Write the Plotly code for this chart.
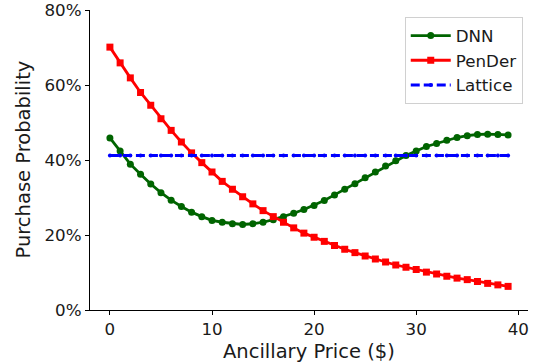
import plotly.graph_objects as go

price = list(range(40))
dnn = [45.9, 42.4, 38.9, 36.2, 33.6, 31.3, 29.3, 27.6, 26.1, 24.9,
       23.9, 23.4, 23.0, 22.8, 23.0, 23.4, 24.1, 24.9, 25.8, 26.8,
       27.9, 29.2, 30.7, 32.2, 33.7, 35.3, 36.8, 38.4, 39.8, 41.2,
       42.4, 43.6, 44.4, 45.3, 46.0, 46.5, 46.8, 46.9, 46.8, 46.7]
pender = [70.1, 65.9, 61.9, 58.0, 54.6, 51.0, 47.9, 44.8, 41.9, 39.3,
          36.8, 34.3, 32.2, 30.2, 28.3, 26.5, 24.9, 23.4, 21.9, 20.5,
          19.4, 18.3, 17.2, 16.2, 15.3, 14.4, 13.6, 12.8, 12.0, 11.4,
          10.8, 10.1, 9.6, 9.0, 8.5, 8.1, 7.6, 7.1, 6.7, 6.3]
lattice = [41.2] * 40

x_ticks = [0, 10, 20, 30, 40]
y_ticks = [0, 20, 40, 60, 80]
y_tick_labels = ["0%", "20%", "40%", "60%", "80%"]

FONT = "DejaVu Sans"
TXT = "#1a1a1a"

fig = go.Figure()
fig.add_trace(go.Scatter(
    x=price, y=dnn, name="DNN", mode="lines+markers",
    line=dict(color="#006400", width=2.8),
    marker=dict(symbol="circle", size=7, color="#006400"),
))
fig.add_trace(go.Scatter(
    x=price, y=pender, name="PenDer", mode="lines+markers",
    line=dict(color="#ff0000", width=2.8),
    marker=dict(symbol="square", size=7, color="#ff0000"),
))
fig.add_trace(go.Scatter(
    x=price, y=lattice, name="Lattice", mode="lines+markers",
    line=dict(color="#0000ff", width=2.8, dash="9px,4px"),
    marker=dict(symbol="circle", size=4, color="#0000ff"),
))

fig.update_layout(
    width=537, height=364,
    margin=dict(l=89.5, r=9, t=10, b=54, autoexpand=False),
    paper_bgcolor="white", plot_bgcolor="white",
    font=dict(family=FONT, size=16.7, color=TXT),
    showlegend=True,
    legend=dict(
        x=0.988, y=0.976, xanchor="right", yanchor="top",
        bgcolor="rgba(255,255,255,0.9)", bordercolor="#d0d0d0", borderwidth=1,
        font=dict(family=FONT, size=16.7, color=TXT),
        itemwidth=40, tracegroupgap=0,
    ),
    annotations=[
        dict(text="Ancillary Price ($)", xref="paper", yref="paper",
             x=0.5, y=0, yshift=-41, xanchor="center", yanchor="middle",
             showarrow=False, font=dict(family=FONT, size=19.5, color=TXT)),
        dict(text="Purchase Probability", xref="paper", yref="paper",
             x=0, y=0.5, xshift=-67.5, xanchor="center", yanchor="middle",
             textangle=-90, showarrow=False,
             font=dict(family=FONT, size=19.5, color=TXT)),
    ],
)
fig.update_xaxes(
    range=[-1.95, 40.95], tickvals=x_ticks, automargin=False,
    ticklabeloverflow="allow",
    showline=True, linecolor="black", linewidth=1.2,
    ticks="outside", ticklen=4, tickcolor="black",
    showgrid=False, zeroline=False,
    tickfont=dict(family=FONT, size=16.7, color=TXT),
)
fig.update_yaxes(
    range=[0, 80], tickvals=y_ticks, ticktext=y_tick_labels, automargin=False,
    ticklabeloverflow="allow",
    showline=True, linecolor="black", linewidth=1.2,
    ticks="outside", ticklen=4, tickcolor="black",
    showgrid=False, zeroline=False,
    tickfont=dict(family=FONT, size=16.7, color=TXT),
)

# remove the browser's default 8px body margin so the figure sits at (0, 0)
fig.write_html("out.html", config={"displayModeBar": False},
               post_script="document.body.style.margin='0px';")
